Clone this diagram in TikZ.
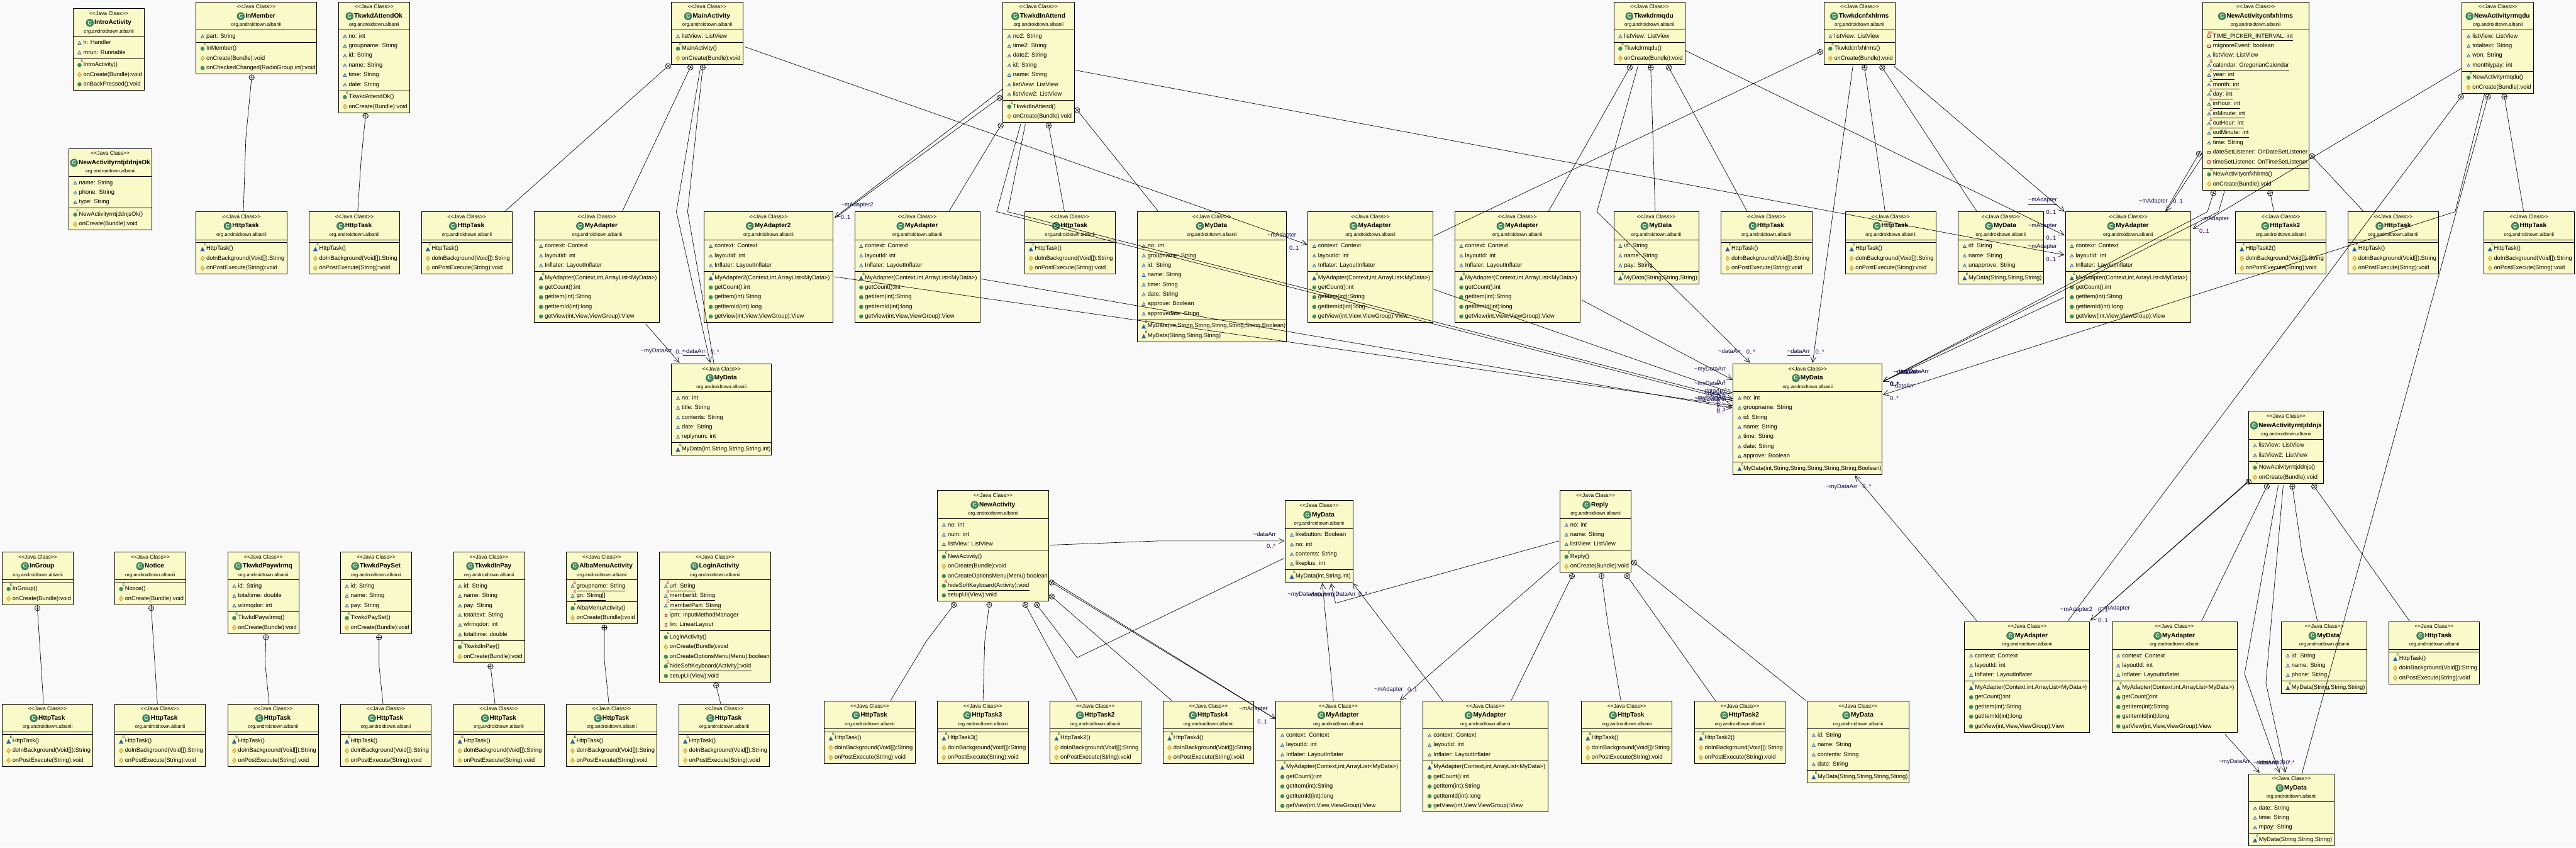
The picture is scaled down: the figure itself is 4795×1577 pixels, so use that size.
\documentclass[tikz,border=0pt]{standalone}
\usepackage{fontspec}
\usetikzlibrary{arrows.meta}
\newfontfamily\umlf{Liberation Sans}
\definecolor{bgc}{HTML}{F9F9F9}
\definecolor{boxc}{HTML}{FAF9C8}
\definecolor{greenc}{HTML}{3F8F5F}
\definecolor{bluec}{HTML}{2A64A8}
\definecolor{yelc}{HTML}{F3CC68}
\definecolor{yeld}{HTML}{C89A30}
\definecolor{redc}{HTML}{C81848}
\definecolor{lblc}{HTML}{101050}
\definecolor{mulc}{HTML}{300070}
\newcount\tn \tn=0
\makeatletter
\tikzset{
  classbox/.style={draw=black,line width=1.1pt,fill=boxc,anchor=north west,inner sep=0pt,outer sep=0pt},
  boxrule/.style={draw=black,line width=1.1pt},
  stereo/.style={font=\umlf\fontsize{10}{12}\selectfont,inner sep=0pt,text height=7.5pt,text depth=2.2pt},
  ctitle/.style={font=\umlf\bfseries\fontsize{11.8}{14}\selectfont,inner sep=0pt,text height=8.8pt,text depth=2.6pt},
  pkg/.style={font=\umlf\fontsize{9}{11}\selectfont,inner sep=0pt,text height=6.8pt,text depth=2pt},
  memtxt/.style={font=\umlf\fontsize{10.9}{13}\selectfont,inner sep=0pt,anchor=west,text height=8pt,text depth=2.3pt},
  tiny/.style={font=\umlf\bfseries\fontsize{8}{9}\selectfont,inner sep=0pt},
  nestline/.style={draw=black,line width=0.75pt},
  assocline/.style={draw=black,line width=0.75pt,-{Straight Barb[length=10pt,width=10pt]}},
  lblnode/.style={font=\umlf\fontsize{10.9}{13}\selectfont,inner sep=0pt,text=lblc},
  mulnode/.style={font=\umlf\fontsize{10.9}{13}\selectfont,inner sep=0pt,text=mulc},
}
\newcommand\nxt{\global\advance\tn by 1 }
% class box: id x y w title nattr nmeth attrs methods
\newcommand\umlclass[9]{%
  \expandafter\xdef\csname nx@#1\endcsname{#2}%
  \expandafter\xdef\csname ny@#1\endcsname{#3}%
  \pgfmathsetmacro\hh{52+(#6*18+5)+(#7*18+5)}%
  \node[classbox,minimum width=#4pt,minimum height=\hh pt] (#1) at (#2,#3) {};
  \pgfmathsetmacro\lineA{#3+52}%
  \pgfmathsetmacro\lineB{#3+52+#6*18+5}%
  \draw[boxrule] (#2,\lineA) -- (#2+#4,\lineA);
  \draw[boxrule] (#2,\lineB) -- (#2+#4,\lineB);
  \pgfmathsetmacro\mx{#2+#4/2}%
  \nxt\node[stereo] (t\the\tn) at (\mx,#3+10) {<<Java Class>>};
  \nxt\node[pkg] (t\the\tn) at (\mx,#3+43) {org.androidtown.albanii};
  \nxt\node[ctitle] (t\the\tn) at (\mx+7.75,#3+26.5) {#5};
  \nxt\node[circle,draw=greenc!70!black,line width=.6pt,fill=greenc,minimum size=14pt,inner sep=0pt,text=white,font=\umlf\bfseries\fontsize{10}{10}\selectfont] (t\the\tn) at ([shift={(-8.5,0)}]t\the\numexpr\tn-1\relax.west) {C};
  \pgfmathsetmacro\ix{#2+12}%
  \pgfmathsetmacro\tx{#2+19}%
  \pgfmathsetmacro\rowy{#3+52+12}%
  #8%
  \pgfmathsetmacro\rowy{#3+52+#6*18+5+12}%
  #9%
}
\newcommand\nextrow{\pgfmathsetmacro\rowy{\rowy+18}}
\newcommand\icoTri{\draw[draw=bluec,fill=bluec!25,line width=.8pt] (\ix-3,\rowy+2.6) -- (\ix,\rowy-3) -- (\ix+3,\rowy+2.6) -- cycle;}
\newcommand\icoTriF{\fill[bluec] (\ix-4.2,\rowy+4.5) -- (\ix,\rowy-3.5) -- (\ix+4.2,\rowy+4.5) -- cycle;}
\newcommand\icoPub{\fill[greenc] (\ix,\rowy) circle[radius=3.9];}
\newcommand\icoPro{\draw[draw=yeld,fill=yelc,line width=.7pt] (\ix-3.6,\rowy) -- (\ix,\rowy-4.6) -- (\ix+3.6,\rowy) -- (\ix,\rowy+4.6) -- cycle;}
\newcommand\icoPrv{\draw[draw=redc,fill=redc!25,line width=1pt] (\ix-2.2,\rowy-2.4) rectangle (\ix+2.2,\rowy+2.4);}
\newcommand\supC{\nxt\node[tiny,text=greenc!70!black!100] (t\the\tn) at (\ix+4.6,\rowy-7.5) {c};}
\newcommand\supS{\nxt\node[tiny,text=redc,font=\umlf\itshape\fontsize{9}{9}\selectfont] (t\the\tn) at (\ix+3.6,\rowy-7.5) {S};}
\newcommand\rowT[1]{\nxt\node[memtxt] (t\the\tn) at (\tx,\rowy) {#1};}
\newcommand\rowU[1]{\nxt\node[memtxt] (t\the\tn) at (\tx,\rowy) {#1};
  \draw[line width=.9pt] ([shift={(0,8.3)}]t\the\tn.west) -- ([shift={(0,8.3)}]t\the\tn.east);}
\newcommand\Atr[1]{\icoTri\rowT{#1}\nextrow}
\newcommand\Stt[1]{\icoTri\supS\rowU{#1}\nextrow}
\newcommand\Prv[1]{\icoPrv\rowT{#1}\nextrow}
\newcommand\SPrv[1]{\icoPrv\nxt\node[tiny,text=redc,font=\umlf\itshape\fontsize{8}{8}\selectfont] (t\the\tn) at (\ix-.5,\rowy-7) {S};\nxt\node[tiny,text=redc,font=\umlf\itshape\fontsize{8}{8}\selectfont] (t\the\tn) at (\ix+4.5,\rowy-7) {F};\rowU{#1}\nextrow}
\newcommand\Pub[1]{\icoPub\rowT{#1}\nextrow}
\newcommand\Pro[1]{\icoPro\rowT{#1}\nextrow}
\newcommand\SPub[1]{\icoPub\supS\rowU{#1}\nextrow}
\newcommand\CPub[1]{\icoPub\supC\rowT{#1}\nextrow}
\newcommand\CPkg[1]{\icoTriF\supC\rowT{#1}\nextrow}
% shortcuts
\newcommand\httptask[4][HttpTask]{\umlclass{#2}{#3}{#4}{169}{#1}{0}{3}{}{\CPkg{#1()}\Pro{doInBackground(Void[]):String}\Pro{onPostExecute(String):void}}}
\newcommand\adapterbody{\Pub{getCount():int}\Pub{getItem(int):String}\Pub{getItemId(int):long}\Pub{getView(int,View,ViewGroup):View}}
\newcommand\myadapter[4]{\umlclass{#1}{#2}{#3}{#4}{MyAdapter}{3}{5}{\Atr{context: Context}\Atr{layoutId: int}\Atr{Inflater: LayoutInflater}}{\CPkg{MyAdapter(Context,int,ArrayList<MyData>)}\adapterbody}}
% connector end: absolute picture position expressed from a named node
\newcommand\ncsx[1]{\csname nx@#1\endcsname}
\newcommand\ncsy[1]{\csname ny@#1\endcsname}
\newcommand\nestcore[5]{% A cx cy nextx nexty
  \pgfmathsetmacro\ang{atan2((#5)-(#3),(#4)-(#2))}%
  \pgfmathsetmacro\dxa{5*cos(\ang)}%
  \pgfmathsetmacro\dya{5*sin(\ang)}%
  \coordinate (cc) at ([shift={({#2-\ncsx{#1}},{#3-\ncsy{#1}})}]#1.north west);
  \draw[nestline] (cc) circle[radius=5];
  \draw[nestline] ([shift={(\dxa,\dya)}]cc) -- ([shift={(-\dxa,-\dya)}]cc);
  \draw[nestline] ([shift={(-\dya,\dxa)}]cc) -- ([shift={(\dya,-\dxa)}]cc);
}
\newcommand\nestS[6]{\nestcore{#1}{#2}{#3}{#5}{#6}%
  \draw[nestline] ([shift={(\dxa,\dya)}]cc) -- ([shift={({#5-\ncsx{#4}},{#6-\ncsy{#4}})}]#4.north west);}
\newcommand\nestV[8]{\nestcore{#1}{#2}{#3}{#4}{#5}%
  \draw[nestline] ([shift={(\dxa,\dya)}]cc) -- (#4,#5) -- ([shift={({#7-\ncsx{#6}},{#8-\ncsy{#6}})}]#6.north west);}
\newcommand\assocS[6]{\draw[assocline] ([shift={({#2-\ncsx{#1}},{#3-\ncsy{#1}})}]#1.north west) -- ([shift={({#5-\ncsx{#4}},{#6-\ncsy{#4}})}]#4.north west);}
\newcommand\assocV[8]{\draw[assocline] ([shift={({#2-\ncsx{#1}},{#3-\ncsy{#1}})}]#1.north west) -- (#4,#5) -- ([shift={({#7-\ncsx{#6}},{#8-\ncsy{#6}})}]#6.north west);}
\newcommand\lbl[3]{\nxt\node[lblnode] (t\the\tn) at (#1,#2) {#3};}
\newcommand\lblu[3]{\nxt\node[lblnode] (t\the\tn) at (#1,#2) {#3};
  \draw[line width=.9pt] ([shift={(0,8)}]t\the\tn.west) -- ([shift={(0,8)}]t\the\tn.east);}
\newcommand\mul[3]{\nxt\node[mulnode] (t\the\tn) at (#1,#2) {#3};}
\newcommand\tld{\textasciitilde}
\makeatother
\begin{document}
\begin{tikzpicture}[x=1pt,y=-1pt]
\fill[bgc] (0,0) rectangle (4795,1577);
\useasboundingbox (0,0) rectangle (4795,1577);
%%% top row
\umlclass{intro}{136}{16}{133}{IntroActivity}{2}{3}{\Atr{h: Handler}\Atr{mrun: Runnable}}{\CPub{IntroActivity()}\Pro{onCreate(Bundle):void}\Pub{onBackPressed():void}}
\umlclass{rntjok}{128}{276.4}{154.6}{NewActivityrntjddnjsOk}{3}{2}{\Atr{name: String}\Atr{phone: String}\Atr{type: String}}{\CPub{NewActivityrntjddnjsOk()}\Pro{onCreate(Bundle):void}}
\umlclass{inmember}{365}{3.6}{224}{InMember}{1}{3}{\Atr{part: String}}{\CPub{InMember()}\Pro{onCreate(Bundle):void}\Pub{onCheckedChanged(RadioGroup,int):void}}
\umlclass{attendok}{630}{3.6}{133}{TkwkdAttendOk}{6}{2}{\Atr{no: int}\Atr{groupname: String}\Atr{id: String}\Atr{name: String}\Atr{time: String}\Atr{date: String}}{\CPub{TkwkdAttendOk()}\Pro{onCreate(Bundle):void}}
\umlclass{main}{1250}{3.6}{133}{MainActivity}{1}{2}{\Atr{listView: ListView}}{\CPub{MainActivity()}\Pro{onCreate(Bundle):void}}
\umlclass{inattend}{1866.6}{3.6}{133}{TkwkdInAttend}{7}{2}{\Atr{no2: String}\Atr{time2: String}\Atr{date2: String}\Atr{id: String}\Atr{name: String}\Atr{listView: ListView}\Atr{listView2: ListView}}{\CPub{TkwkdInAttend()}\Pro{onCreate(Bundle):void}}
\umlclass{rmqdu}{3004}{3.6}{133}{Tkwkdrmqdu}{1}{2}{\Atr{listView: ListView}}{\CPub{Tkwkdrmqdu()}\Pro{onCreate(Bundle):void}}
\umlclass{cnf}{3395}{3.6}{133}{Tkwkdcnfxhlrms}{1}{2}{\Atr{listView: ListView}}{\CPub{Tkwkdcnfxhlrms()}\Pro{onCreate(Bundle):void}}
\umlclass{nacnf}{4100}{3.6}{197.5}{NewActivitycnfxhlrms}{14}{2}{\SPrv{TIME\_PICKER\_INTERVAL: int}\Prv{mIgnoreEvent: boolean}\Atr{listView: ListView}\Stt{calendar: GregorianCalendar}\Stt{year: int}\Stt{month: int}\Stt{day: int}\Stt{inHour: int}\Stt{inMinute: int}\Stt{outHour: int}\Stt{outMinute: int}\Atr{time: String}\Prv{dateSetListener: OnDateSetListener}\Prv{timeSetListener: OnTimeSetListener}}{\CPub{NewActivitycnfxhlrms()}\Pro{onCreate(Bundle):void}}
\umlclass{narm}{4583}{3.6}{133}{NewActivityrmqdu}{4}{2}{\Atr{listView: ListView}\Atr{totaltext: String}\Atr{won: String}\Atr{monthlypay: int}}{\CPub{NewActivityrmqdu()}\Pro{onCreate(Bundle):void}}
%%% second row
\httptask{h1}{365}{394}
\httptask{h2}{575}{394}
\httptask{h3}{784.5}{394}
\myadapter{ad1}{995}{394}{232.5}
\umlclass{ad2}{1311}{394}{239}{MyAdapter2}{3}{5}{\Atr{context: Context}\Atr{layoutId: int}\Atr{Inflater: LayoutInflater}}{\CPkg{MyAdapter2(Context,int,ArrayList<MyData>)}\adapterbody}
\myadapter{ad3}{1591}{394}{233}
\httptask{h4}{1907}{394}
\umlclass{d1}{2117}{394}{277}{MyData}{8}{2}{\Atr{no: int}\Atr{groupname: String}\Atr{id: String}\Atr{name: String}\Atr{time: String}\Atr{date: String}\Atr{approve: Boolean}\Atr{approvedate: String}}{\CPkg{MyData(int,String,String,String,String,String,Boolean)}\CPkg{MyData(String,String,String)}}
\myadapter{ad4}{2434.4}{394}{233}
\myadapter{ad5}{2708}{394}{233}
\umlclass{d2}{3004}{394}{158}{MyData}{3}{1}{\Atr{id: String}\Atr{name: String}\Atr{pay: String}}{\CPkg{MyData(String,String,String)}}
\httptask{h5}{3203.6}{394}
\httptask{h6}{3434.7}{394}
\umlclass{d3}{3645}{394}{158.5}{MyData}{3}{1}{\Atr{id: String}\Atr{name: String}\Atr{unapprove: String}}{\CPkg{MyData(String,String,String)}}
\myadapter{ad6}{3844.6}{394}{233.5}
\httptask[HttpTask2]{h7}{4161}{394}
\httptask{h8}{4370.5}{394}
\httptask{h9}{4623}{394}
%%% middle
\umlclass{dmid}{1250}{677}{186}{MyData}{5}{1}{\Atr{no: int}\Atr{title: String}\Atr{contents: String}\Atr{date: String}\Atr{replynum: int}}{\CPkg{MyData(int,String,String,String,int)}}
\umlclass{central}{3226}{677}{277.5}{MyData}{7}{1}{\Atr{no: int}\Atr{groupname: String}\Atr{id: String}\Atr{name: String}\Atr{time: String}\Atr{date: String}\Atr{approve: Boolean}}{\CPkg{MyData(int,String,String,String,String,String,Boolean)}}
\umlclass{narn}{4185.5}{765.3}{139.5}{NewActivityrntjddnjs}{2}{2}{\Atr{listView: ListView}\Atr{listView2: ListView}}{\CPub{NewActivityrntjddnjs()}\Pro{onCreate(Bundle):void}}
%%% bottom
\umlclass{ingroup}{4}{1027}{132.5}{InGroup}{0}{2}{}{\CPub{InGroup()}\Pro{onCreate(Bundle):void}}
\umlclass{notice}{213.5}{1027}{132.5}{Notice}{0}{2}{}{\CPub{Notice()}\Pro{onCreate(Bundle):void}}
\umlclass{paywl}{424}{1027}{132.5}{TkwkdPaywlrmq}{3}{2}{\Atr{id: String}\Atr{totaltime: double}\Atr{wlrmqdor: int}}{\CPub{TkwkdPaywlrmq()}\Pro{onCreate(Bundle):void}}
\umlclass{payset}{633.7}{1027}{132.5}{TkwkdPaySet}{3}{2}{\Atr{id: String}\Atr{name: String}\Atr{pay: String}}{\CPub{TkwkdPaySet()}\Pro{onCreate(Bundle):void}}
\umlclass{inpay}{844}{1027}{132.5}{TkwkdInPay}{6}{2}{\Atr{id: String}\Atr{name: String}\Atr{pay: String}\Atr{totaltext: String}\Atr{wlrmqdor: int}\Atr{totaltime: double}}{\CPub{TkwkdInPay()}\Pro{onCreate(Bundle):void}}
\umlclass{alba}{1054}{1027}{132.5}{AlbaMenuActivity}{2}{2}{\Stt{groupname: String}\Stt{gn: String[]}}{\CPub{AlbaMenuActivity()}\Pro{onCreate(Bundle):void}}
\umlclass{login}{1227.5}{1027}{207}{LoginActivity}{5}{5}{\Stt{url: String}\Stt{memberId: String}\Stt{memberPart: String}\Prv{ipm: InputMethodManager}\Prv{lin: LinearLayout}}{\CPub{LoginActivity()}\Pro{onCreate(Bundle):void}\Pub{onCreateOptionsMenu(Menu):boolean}\SPub{hideSoftKeyboard(Activity):void}\Pub{setupUI(View):void}}
\httptask{hb1}{4}{1310}
\httptask{hb2}{213.5}{1310}
\httptask{hb3}{424}{1310}
\httptask{hb4}{633.7}{1310}
\httptask{hb5}{844}{1310}
\httptask{hb6}{1054}{1310}
\httptask{hb7}{1263.5}{1310}
\umlclass{newact}{1745}{913}{207}{NewActivity}{3}{5}{\Atr{no: int}\Atr{num: int}\Atr{listView: ListView}}{\CPub{NewActivity()}\Pro{onCreate(Bundle):void}\Pub{onCreateOptionsMenu(Menu):boolean}\SPub{hideSoftKeyboard(Activity):void}\Pub{setupUI(View):void}}
\httptask{hn1}{1534.4}{1304.6}
\httptask[HttpTask3]{hn2}{1745}{1304.6}
\httptask[HttpTask2]{hn3}{1954.6}{1304.6}
\httptask[HttpTask4]{hn4}{2165}{1304.6}
\umlclass{dnew}{2392.6}{931.5}{125.5}{MyData}{4}{1}{\Atr{likebutton: Boolean}\Atr{no: int}\Atr{contents: String}\Atr{likeplus: int}}{\CPkg{MyData(int,String,int)}}
\umlclass{reply}{2903.8}{913}{132.5}{Reply}{3}{2}{\Atr{no: int}\Atr{name: String}\Atr{listView: ListView}}{\CPub{Reply()}\Pro{onCreate(Bundle):void}}
\myadapter{ad7}{2375}{1304.6}{232}
\myadapter{ad8}{2649}{1304.6}{232}
\httptask{hr1}{2943.6}{1304.6}
\httptask[HttpTask2]{hr2}{3154}{1304.6}
\umlclass{dr}{3364}{1304.6}{189}{MyData}{4}{1}{\Atr{id: String}\Atr{name: String}\Atr{contents: String}\Atr{date: String}}{\CPkg{MyData(String,String,String,String)}}
\myadapter{ad9}{3657}{1156.6}{233}
\myadapter{ad10}{3931}{1156.6}{233}
\umlclass{dn}{4246.6}{1156.6}{159.4}{MyData}{3}{1}{\Atr{id: String}\Atr{name: String}\Atr{phone: String}}{\CPkg{MyData(String,String,String)}}
\httptask{hn5}{4446.5}{1156.6}
\umlclass{dlast}{4185.5}{1440}{159.5}{MyData}{3}{1}{\Atr{date: String}\Atr{time: String}\Atr{mpay: String}}{\CPkg{MyData(String,String,String)}}
%%% connectors
\nestV{inmember}{468.4}{144}{457.6}{257}{h1}{453}{394}
\nestV{attendok}{680.4}{215.5}{672}{300}{h2}{665.8}{394}
\nestS{main}{1243.6}{123}{h3}{939}{394}
\nestS{main}{1285}{125.3}{ad1}{1158}{394}
\assocS{ad1}{1202}{603}{dmid}{1265}{675}
\assocV{main}{1303}{130}{1259}{394}{dmid}{1322}{675}
\nestV{main}{1308}{125.3}{1280}{394}{dmid}{1329}{677}
\assocS{main}{1386}{87}{ad4}{2433}{455}
\assocS{inattend}{1866}{166}{ad2}{1553.6}{405}
\nestS{inattend}{1860.5}{182}{ad2}{1558}{403}
\nestS{inattend}{1862.7}{233.7}{ad3}{1766}{394}
\nestS{inattend}{1952}{233.7}{h4}{1981.4}{394}
\nestS{inattend}{2005}{205}{d1}{2156.6}{394}
\assocV{inattend}{1900}{230.5}{1855}{394}{central}{3225}{745.7}
\assocV{inattend}{1908.7}{230.5}{1875.8}{394}{central}{3225}{741.7}
\assocS{inattend}{2001}{130.5}{ad6}{3843}{474.5}
\assocS{ad2}{1553.6}{515}{central}{3225}{755}
\assocS{ad3}{1826}{519}{central}{3225}{759}
\assocS{ad4}{2669}{538.6}{central}{3225}{731.7}
\assocS{ad5}{2945}{558.7}{central}{3225}{706.7}
\nestS{rmqdu}{3033.7}{125.7}{ad5}{2882}{394}
\nestS{rmqdu}{3072.7}{125.7}{d2}{3081}{394}
\nestS{rmqdu}{3106.4}{125.7}{h5}{3252.5}{394}
\assocV{rmqdu}{3049}{122.6}{2972.5}{394}{central}{3257.6}{675}
\assocS{rmqdu}{3137}{94}{ad6}{3843}{438}
\nestS{cnf}{3388}{96.5}{ad4}{2669}{439}
\nestS{cnf}{3470.7}{125.7}{h6}{3509}{394}
\nestS{cnf}{3503.6}{125.7}{d3}{3680}{394}
\assocS{cnf}{3525}{122.6}{ad6}{3843}{394}
\assocS{cnf}{3449}{122.6}{central}{3374}{675}
\assocS{ad6}{3842}{553.6}{central}{3505}{710}
\nestS{nacnf}{4093}{286}{ad6}{4030}{394}
\assocS{nacnf}{4099}{292}{ad6}{4032}{393}
\assocV{nacnf}{4141}{354.7}{4129.7}{394}{central}{3505}{710}
\nestV{nacnf}{4119.8}{359.4}{4109}{394}{central}{3507}{709}
\nestS{nacnf}{4225.7}{359.4}{h7}{4232.6}{394}
\nestS{nacnf}{4303.5}{290.6}{h8}{4400}{394}
\assocS{narm}{4583}{126.5}{ad6}{4081.7}{426}
\nestS{narm}{4581}{180}{ad9}{3849}{1155.6}
\assocV{narm}{4625}{174}{4570}{394}{central}{3505}{734.7}
\nestS{narm}{4631}{180}{dlast}{4284.6}{1440}
\nestS{narm}{4661.6}{180}{h9}{4697.5}{394}
\assocS{ad9}{3680}{1155.6}{central}{3452.7}{885}
\assocS{narn}{4185.5}{895}{ad9}{3891}{1155}
\nestS{narn}{4185.5}{896.5}{ad9}{3893}{1153}
\nestS{narn}{4219.4}{905.4}{ad10}{4098}{1155.5}
\nestV{narn}{4267}{905.4}{4284.6}{1028}{dn}{4313.5}{1155.5}
\nestS{narn}{4307.7}{905.4}{hn5}{4485}{1155.5}
\assocV{narn}{4240.8}{903}{4178}{1254}{dlast}{4243}{1438}
\assocV{narn}{4250}{903}{4217.7}{1270.7}{dlast}{4254}{1438}
\assocS{ad10}{4141.7}{1366.5}{dlast}{4206}{1438}
\assocV{reply}{2902}{1006.6}{2486}{1122.4}{dnew}{2477.5}{1085}
\assocS{reply}{2902}{1046}{ad8}{2606}{1303}
\nestS{reply}{2926}{1071.8}{ad8}{2812.7}{1303.8}
\nestV{reply}{2981}{1071.8}{2992.6}{1159}{hr1}{3017}{1303.8}
\nestS{reply}{3028.6}{1071.8}{hr2}{3193}{1303.8}
\nestS{reply}{3041.6}{1046.8}{dr}{3361.4}{1303.8}
\assocS{ad7}{2482}{1303.8}{dnew}{2461.5}{1085}
\assocS{ad8}{2685}{1303.8}{dnew}{2518}{1085}
\assocV{newact}{1953.8}{1014.4}{2156.6}{1006.6}{dnew}{2391}{1006.6}
\nestV{newact}{1775.5}{1125.4}{1724}{1193.6}{hn1}{1657.6}{1303.8}
\nestV{newact}{1841.3}{1125.4}{1833}{1193.6}{hn2}{1829.8}{1303.8}
\nestS{newact}{1908.7}{1125.4}{hn3}{2005}{1303.8}
\nestV{newact}{1930}{1125.4}{2005}{1223.8}{dnew}{2390}{1039}
\nestS{newact}{1957.6}{1110}{hn4}{2181}{1303.8}
\nestS{newact}{1957.6}{1084}{ad7}{2371}{1336}
\assocS{newact}{1960}{1082}{ad7}{2375}{1338.3}
\nestS{login}{1333}{1275.6}{hb7}{1341.6}{1310}
\nestS{ingroup}{69.6}{1131.7}{hb1}{81}{1310}
\nestS{notice}{281.6}{1131.7}{hb2}{293}{1310}
\nestV{paywl}{495}{1185.8}{493.6}{1235.5}{hb3}{501}{1310}
\nestV{payset}{705.6}{1185.8}{705.6}{1239}{hb4}{713}{1310}
\nestS{inpay}{913}{1240}{hb5}{921.4}{1310}
\nestV{alba}{1125}{1167.8}{1125}{1228}{hb6}{1133.4}{1310}
%%% labels
\lbl{1595.7}{381.6}{\tld mAdapter2}\mul{1574}{404.5}{0..1}
\lbl{2386}{438}{\tld mAdapter}\mul{2409}{461}{0..1}
\lbl{1222}{654}{\tld myDataArr}\mul{1266}{655}{0..*}
\lblu{1292}{654}{\tld dataArr}\mul{1330.5}{655}{0..*}
\lbl{3219.6}{654}{\tld dataArr}\mul{3259}{655}{0..*}
\lblu{3348}{654}{\tld dataArr}\mul{3387.5}{655}{0..*}
\lbl{3183}{688}{\tld myDataArr}\mul{3203.6}{710.7}{0..*}
\lbl{3183}{714}{\tld myDataArr}\mul{3203.6}{736.7}{0..*}
\lbl{3190.6}{727}{\tld dataArr2}\mul{3203.6}{746}{0..*}
\lbl{3193.7}{731.7}{\tld dataArr}\mul{3203.6}{754}{0..*}
\lbl{3183}{741}{\tld myDataArr}\mul{3203.6}{763}{0..*}
\lbl{3185}{744}{\tld myDataArr}\mul{3203.6}{766}{0..*}
\lbl{3546}{692}{\tld dataArr}\mul{3526}{715}{0..*}
\lbl{3550}{692}{\tld dataArr}\mul{3526}{715}{0..*}
\lbl{3561}{692}{\tld myDataArr}\mul{3527}{715}{0..*}
\lbl{3542}{718}{\tld dataArr}\mul{3526}{741}{0..*}
\lblu{3802}{372.5}{\tld mAdapter}\mul{3818}{395.4}{0..1}
\lbl{3802}{420}{\tld mAdapter}\mul{3818}{443}{0..1}
\lbl{3802}{459.5}{\tld mAdapter}\mul{3818}{482.4}{0..1}
\lbl{4008}{374.4}{\tld mAdapter}\mul{4054}{375}{0..1}
\lbl{4122}{407}{\tld mAdapter}\mul{4103}{430}{0..1}
\lbl{3865}{1134}{\tld mAdapter2}\mul{3914.6}{1135}{0..1}
\lbl{3937.7}{1132.4}{\tld mAdapter}\mul{3914.6}{1155}{0..1}
\lbl{4159}{1418.5}{\tld myDataArr}\mul{4243}{1419}{0..*}
\lbl{4215}{1418.5}{\tld dataArr}\mul{4256}{1419}{0..*}
\lbl{4225}{1418.5}{\tld dataArr2}\mul{4263}{1419}{0..*}
\lbl{2354}{994}{\tld dataArr}\mul{2366}{1017}{0..*}
\lbl{2426}{1106.4}{\tld myDataArr}\mul{2461}{1106.4}{0..*}
\lbl{2455}{1106.4}{\tld dataArr}\mul{2485}{1106.4}{0..*}
\lbl{2494}{1106.4}{\tld myDataArr}\mul{2537}{1106}{0..*}
\lbl{2584.7}{1282.6}{\tld mAdapter}\mul{2629}{1283}{0..1}
\lbl{2333}{1319.7}{\tld mAdapter}\mul{2349.5}{1342.6}{0..1}
\lbl{3428}{906.5}{\tld myDataArr}\mul{3475}{905}{0..*}
\end{tikzpicture}
\end{document}
